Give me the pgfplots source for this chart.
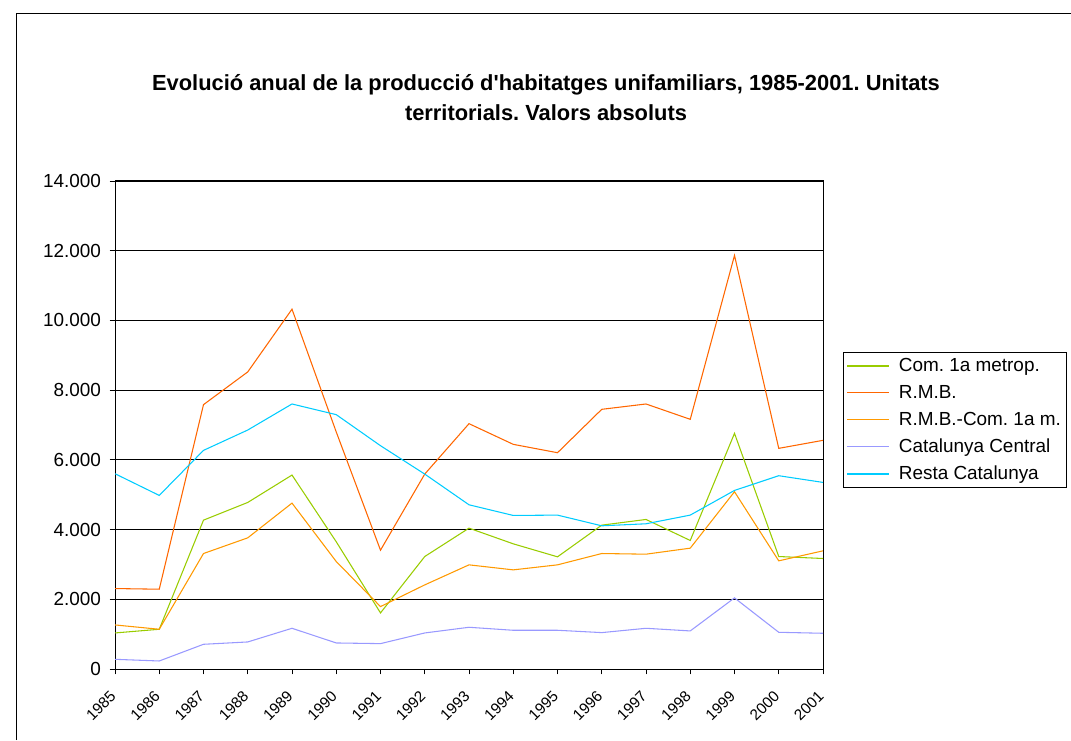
\documentclass[border=0pt]{standalone}
\usepackage{pgfplots}
\pgfplotsset{compat=1.18}
\usepackage{fontspec}
\setmainfont{Liberation Sans}
\definecolor{cgreen}{HTML}{99CC00}
\definecolor{corange}{HTML}{FF6600}
\definecolor{clorange}{HTML}{FF9900}
\definecolor{clav}{HTML}{9999FF}
\definecolor{ccyan}{HTML}{00CCFF}
\pgfplotsset{
  my legend/.style={legend image code/.code={\draw[##1, line width=1.1pt] plot coordinates {(0pt,0pt) (15.75pt,0pt) (31.5pt,0pt)};}},
}
\newcommand{\ls}{\rule[-4pt]{0pt}{13.5pt}}
\begin{document}
\frenchspacing
\begin{tikzpicture}
\begin{scope}[x=0.75pt,y=0.75pt]
\path[use as bounding box] (0,0) rectangle (1071,740);
\draw[line width=0.75pt] (16,0) -- (16,726) -- (1071,726);
\node[font=\bfseries\fontsize{16.4}{19}\selectfont, anchor=base, inner sep=0pt] at (546,649) {Evolució anual de la producció d\textquotesingle habitatges unifamiliars, 1985-2001. Unitats};
\node[font=\bfseries\fontsize{16.4}{19}\selectfont, anchor=base, inner sep=0pt] at (546,619) {territorials. Valors absoluts};
\end{scope}
\begin{axis}[
  at={(86.25pt,53.25pt)}, anchor=south west,
  scale only axis, width=531pt, height=366pt,
  xmin=1985, xmax=2001, ymin=0, ymax=14000,
  xtick={1985,...,2001}, ytick={0,2000,...,14000},
  tick align=outside, xtick pos=bottom, ytick pos=left,
  major tick length=4pt,
  every tick/.style={black, line width=0.6pt},
  axis line style={line width=0.75pt},
  ymajorgrids, grid style={black, line width=0.6pt},
  /pgf/number format/assume math mode=true,
  y tick label style={/pgf/number format/1000 sep={.}, /pgf/number format/fixed, font=\fontsize{14.2}{16}\selectfont, xshift=-3pt},
  scaled y ticks=false,
  x tick label style={/pgf/number format/1000 sep={}, rotate=45, anchor=east, font=\fontsize{11.5}{13}\selectfont, inner sep=0pt, xshift=-2pt},
  xticklabel shift=13pt,
  legend style={at={(1.0282,0.6496)}, anchor=north west, draw=black, line width=0.6pt, font=\fontsize{14.2}{16}\selectfont, row sep=4.7pt, column sep=4.5pt, inner sep=2.5pt},
  legend cell align=left,
  my legend,
  every axis plot/.append style={line width=0.8pt},
]
\addplot[cgreen] coordinates {(1985,1034)(1986,1140)(1987,4271)(1988,4778)(1989,5564)(1990,3650)(1991,1609)(1992,3227)(1993,4041)(1994,3591)(1995,3218)(1996,4127)(1997,4290)(1998,3687)(1999,6761)(2000,3227)(2001,3170)};
\addlegendentry{\ls Com. 1a metrop.}
\addplot[corange] coordinates {(1985,2308)(1986,2289)(1987,7584)(1988,8523)(1989,10323)(1990,6800)(1991,3409)(1992,5592)(1993,7038)(1994,6445)(1995,6205)(1996,7450)(1997,7603)(1998,7163)(1999,11865)(2000,6330)(2001,6560)};
\addlegendentry{\ls R.M.B.}
\addplot[clorange] coordinates {(1985,1264)(1986,1140)(1987,3313)(1988,3763)(1989,4759)(1990,3083)(1991,1791)(1992,2413)(1993,2988)(1994,2844)(1995,2988)(1996,3313)(1997,3294)(1998,3467)(1999,5085)(2000,3103)(2001,3390)};
\addlegendentry{\ls R.M.B.-Com. 1a m.}
\addplot[clav] coordinates {(1985,278)(1986,230)(1987,709)(1988,776)(1989,1168)(1990,747)(1991,728)(1992,1034)(1993,1197)(1994,1111)(1995,1111)(1996,1044)(1997,1168)(1998,1092)(1999,2040)(2000,1053)(2001,1025)};
\addlegendentry{\ls Catalunya Central}
\addplot[ccyan] coordinates {(1985,5602)(1986,4980)(1987,6272)(1988,6856)(1989,7603)(1990,7297)(1991,6406)(1992,5592)(1993,4711)(1994,4405)(1995,4415)(1996,4108)(1997,4166)(1998,4415)(1999,5123)(2000,5545)(2001,5353)};
\addlegendentry{\ls Resta Catalunya}
\end{axis}
\end{tikzpicture}
\end{document}
